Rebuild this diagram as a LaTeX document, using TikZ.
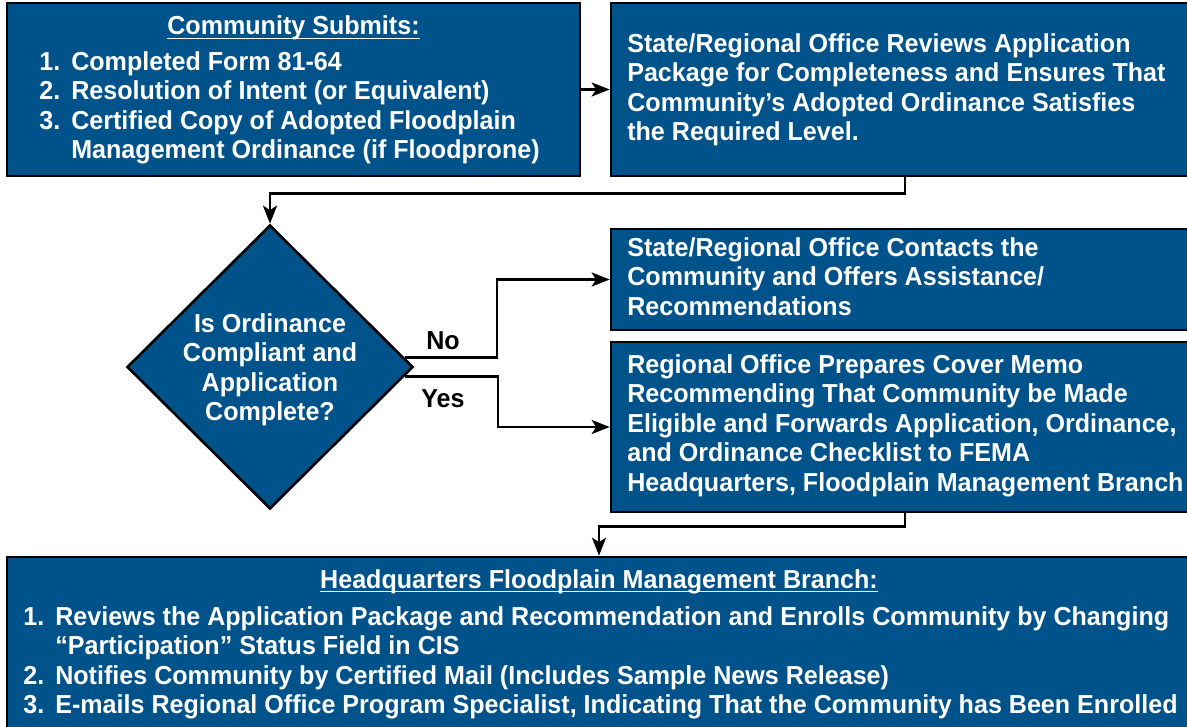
\documentclass[tikz,border=0pt]{standalone}
\usepackage{fontspec}
\newfontfamily\femafont{Liberation Sans}[FakeStretch=0.965]
\usepackage{tikz}
\usetikzlibrary{arrows.meta}
\usetikzlibrary{positioning}
\usetikzlibrary{shapes.geometric}
\usetikzlibrary{calc}
\definecolor{femablue}{RGB}{0,82,138}
\newcommand{\itm}[1]{\makebox[16pt][l]{#1}}
\newsavebox\titlebox
\newcommand{\titleline}[1]{\sbox\titlebox{#1}\usebox\titlebox\llap{\rule[-2.2pt]{\wd\titlebox}{0.9pt}}}

\begin{document}
\begin{tikzpicture}[x=0.5pt,y=-0.5pt,>={Stealth[length=9pt,width=7pt,inset=2.2pt]},
                    line width=1.3pt,
                    step box/.style={rectangle,draw=black,line width=1.3pt,fill=femablue,inner sep=0pt},
                    check box/.style={diamond,draw=black,line width=1.3pt,fill=femablue,inner sep=0pt,
                      minimum width=143pt,minimum height=142pt},
                    box text/.style={text=white,inner sep=0pt,align=left,
                      font=\femafont\bfseries\fontsize{13}{14.75}\selectfont},
                    box title/.style={box text,align=center},
                    branch label/.style={text=black,inner sep=0pt,
                      font=\femafont\bfseries\fontsize{13}{14.75}\selectfont}]

  \useasboundingbox (0,0) rectangle (1187,727);

  % boxes
  \node[step box,minimum width=286.5pt,minimum height=86.5pt] (submit) at (293.5,89.5) {};
  \node[step box,minimum width=294pt,minimum height=86.5pt] (review) at (905,89.5) {};
  \node[check box] (check) at (270,367) {};
  \node[step box,minimum width=294pt,minimum height=50.5pt] (contact) at (905,279.5) {};
  \node[step box,minimum width=294pt,minimum height=85pt] (memo) at (905,427) {};
  \node[step box,minimum width=592pt,minimum height=91.5pt] (hq) at (599,648.5) {};

  % texts
  \node[box title,anchor=base] (submit title) at (293.5,35) {\titleline{Community Submits:}};
  \node[box text,anchor=north west] (submit list) at (38,50)
    {\itm{1.}Completed Form 81-64\\
     \itm{2.}Resolution of Intent (or Equivalent)\\
     \itm{3.}Certified Copy of Adopted Floodplain\\
     \itm{}Management Ordinance (if Floodprone)};
  \node[box text,anchor=north west] (review text) at (626,32)
    {State/Regional Office Reviews Application\\
     Package for Completeness and Ensures That\\
     Community’s Adopted Ordinance Satisfies\\
     the Required Level.};
  \node[box title] (check text) at (270,370)
    {Is Ordinance\\Compliant and\\Application\\Complete?};
  \node[box text,anchor=north west] (contact text) at (626,236)
    {State/Regional Office Contacts the\\
     Community and Offers Assistance/\\
     Recommendations};
  \node[box text,anchor=north west] (memo text) at (626,353)
    {Regional Office Prepares Cover Memo\\
     Recommending That Community be Made\\
     Eligible and Forwards Application, Ordinance,\\
     and Ordinance Checklist to FEMA\\
     Headquarters, Floodplain Management Branch};
  \node[box title,anchor=base] (hq title) at (599,588)
    {\titleline{Headquarters Floodplain Management Branch:}};
  \node[box text,anchor=north west] (hq list) at (22,605)
    {\itm{1.}Reviews the Application Package and Recommendation and Enrolls Community by Changing\\
     \itm{}“Participation” Status Field in CIS\\
     \itm{2.}Notifies Community by Certified Mail (Includes Sample News Release)\\
     \itm{3.}E-mails Regional Office Program Specialist, Indicating That the Community has Been Enrolled};

  % connectors
  \draw[->] (submit.east) -- (review.west);
  \draw[->] (review.south) -- ++(0,16) -| (check.north);
  \draw[->] (check.4) -- ++(92,0) |- (contact.west);
  \draw[->] (check.-4.5) -- ++(93,0) |- (memo.west);
  \draw[->] (memo.south) -- ++(0,13) -| (hq.north);

  \node[branch label,anchor=base] (no label) at (443,349) {No};
  \node[branch label,anchor=base] (yes label) at (443,407) {Yes};
\end{tikzpicture}
\end{document}
